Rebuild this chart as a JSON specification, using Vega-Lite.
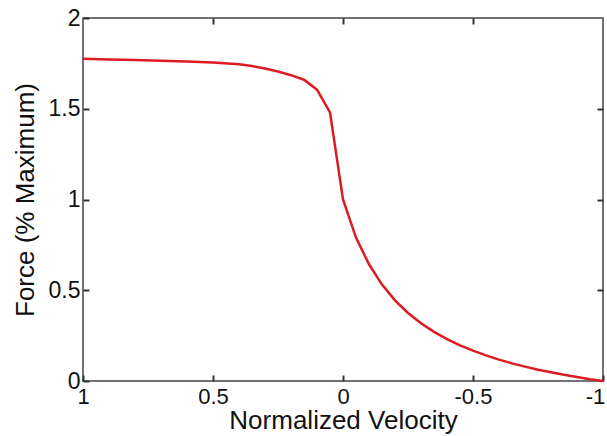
{
  "$schema": "https://vega.github.io/schema/vega-lite/v6.json",
  "width": 520,
  "height": 363,
  "autosize": {"type": "none"},
  "padding": {"left": 83, "top": 18, "right": 4, "bottom": 55},
  "background": "white",
  "config": {
    "view": {"stroke": "#444444", "strokeWidth": 1.5},
    "font": "Liberation Sans",
    "axis": {
      "domain": false,
      "grid": false,
      "ticks": true,
      "tickSize": -6,
      "tickColor": "#333333",
      "tickWidth": 2,
      "labelFont": "Liberation Sans",
      "labelFontSize": 23,
      "labelColor": "#111111",
      "titleFont": "Liberation Sans",
      "titleFontSize": 26,
      "titleFontWeight": "normal",
      "titleColor": "#111111",
      "labelOverlap": false,
      "labelBound": false,
      "labelFlush": false,
      "labelExpr": "'' + datum.value"
    }
  },
  "data": {
    "values": [
      {"v": 1.0, "f": 1.775},
      {"v": 0.9, "f": 1.772},
      {"v": 0.8, "f": 1.768},
      {"v": 0.7, "f": 1.764},
      {"v": 0.6, "f": 1.76},
      {"v": 0.5, "f": 1.755},
      {"v": 0.4, "f": 1.745},
      {"v": 0.35, "f": 1.735},
      {"v": 0.3, "f": 1.722},
      {"v": 0.25, "f": 1.705},
      {"v": 0.2, "f": 1.685},
      {"v": 0.15, "f": 1.66},
      {"v": 0.1, "f": 1.605},
      {"v": 0.05, "f": 1.48},
      {"v": 0.0, "f": 1.0},
      {"v": -0.05, "f": 0.79},
      {"v": -0.1, "f": 0.643},
      {"v": -0.15, "f": 0.531},
      {"v": -0.2, "f": 0.444},
      {"v": -0.25, "f": 0.375},
      {"v": -0.3, "f": 0.318},
      {"v": -0.35, "f": 0.271},
      {"v": -0.4, "f": 0.231},
      {"v": -0.45, "f": 0.196},
      {"v": -0.5, "f": 0.167},
      {"v": -0.55, "f": 0.141},
      {"v": -0.6, "f": 0.118},
      {"v": -0.65, "f": 0.097},
      {"v": -0.7, "f": 0.079},
      {"v": -0.75, "f": 0.0625},
      {"v": -0.8, "f": 0.048},
      {"v": -0.85, "f": 0.034},
      {"v": -0.9, "f": 0.022},
      {"v": -0.95, "f": 0.01},
      {"v": -1.0, "f": 0.0}
    ]
  },
  "layer": [
    {
      "mark": {"type": "line", "strokeWidth": 0, "opacity": 0},
      "encoding": {
        "x": {"field": "v", "type": "quantitative", "scale": {"domain": [1, -1], "nice": false, "zero": false},
              "axis": {"orient": "top", "labels": false, "title": null, "values": [0.5, 0, -0.5]}},
        "y": {"field": "f", "type": "quantitative", "scale": {"domain": [0, 2], "nice": false},
              "axis": {"orient": "right", "labels": false, "title": null, "values": [0.5, 1, 1.5]}}
      }
    },
    {
      "mark": {"type": "line", "color": "#dc1c22", "strokeWidth": 2.5},
      "encoding": {
        "x": {"field": "v", "type": "quantitative", "scale": {"domain": [1, -1], "nice": false, "zero": false},
              "axis": {"orient": "bottom", "title": "Normalized Velocity", "values": [1, 0.5, 0, -0.5, -1], "labelPadding": 11, "labelFontSize": 22, "titlePadding": 0,
                       "labelOffset": {"condition": {"test": "datum.value == -1", "value": -8}, "value": 0}}},
        "y": {"field": "f", "type": "quantitative", "scale": {"domain": [0, 2], "nice": false},
              "axis": {"orient": "left", "title": "Force (% Maximum)", "values": [0, 0.5, 1, 1.5, 2], "labelPadding": 9, "titlePadding": 10}}
      }
    }
  ],
  "resolve": {"axis": {"x": "independent", "y": "independent"}}
}
